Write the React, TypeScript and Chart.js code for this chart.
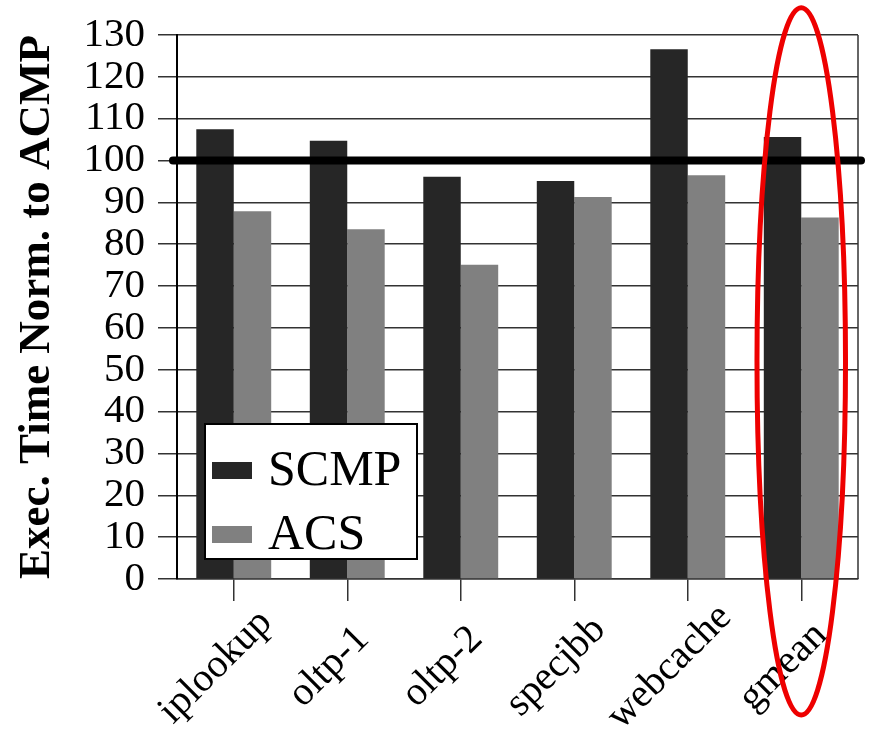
import { useEffect, useRef } from 'react';
import { Chart, registerables } from 'chart.js';

Chart.register(...registerables);

const categories = ['iplookup', 'oltp-1', 'oltp-2', 'specjbb', 'webcache', 'gmean'];
const seriesLabels = ['SCMP', 'ACS'];
const scmpValues = [107.5, 104.7, 96.1, 95.1, 126.6, 105.6];
const acsValues = [87.9, 83.6, 75.1, 91.3, 96.5, 86.4];
const yMin = 0;
const yMax = 130;
const yStep = 10;
const baselineValue = 100;
const highlightCategory = 'gmean';
const highlightRange = [-32.5, 136.5];
const yTitle = 'Exec. Time Norm. to ACMP';

const SERIF = '"Liberation Serif", "Times New Roman", "DejaVu Serif", serif';
const COLORS = ['#262626', '#808080'];

const overlayPlugin = {
  id: 'overlay',
  afterDatasetsDraw(chart: any) {
    const { ctx, chartArea: ca, scales } = chart;
    const x = scales.x;
    const y = scales.y;
    ctx.save();
    // right border of the plot box
    ctx.strokeStyle = '#333';
    ctx.lineWidth = 1.5;
    ctx.beginPath();
    ctx.moveTo(ca.right, ca.top);
    ctx.lineTo(ca.right, ca.bottom);
    ctx.stroke();

    // thick reference line
    const yb = y.getPixelForValue(baselineValue);
    ctx.strokeStyle = '#000';
    ctx.lineWidth = 8;
    ctx.lineCap = 'round';
    ctx.beginPath();
    ctx.moveTo(ca.left - 4, yb);
    ctx.lineTo(ca.right + 3, yb);
    ctx.stroke();

    // legend
    const lx = ca.left + 28;
    const lw = 212;
    const lh = 135;
    const ly = ca.bottom - 20 - lh;
    ctx.lineCap = 'butt';
    ctx.fillStyle = '#fff';
    ctx.fillRect(lx, ly, lw, lh);
    ctx.strokeStyle = '#000';
    ctx.lineWidth = 2;
    ctx.strokeRect(lx, ly, lw, lh);
    ctx.font = `50px ${SERIF}`;
    ctx.textBaseline = 'middle';
    ctx.textAlign = 'left';
    chart.data.datasets.forEach((ds: any, i: number) => {
      const cy = ly + 46 + i * 64;
      ctx.fillStyle = ds.backgroundColor;
      ctx.fillRect(lx + 7, cy - 8, 40, 17);
      ctx.fillStyle = '#000';
      ctx.fillText(ds.label, lx + 63, cy + 2);
    });

    // rotated category labels, centred below each tick
    ctx.font = `40px ${SERIF}`;
    ctx.fillStyle = '#000';
    ctx.textAlign = 'center';
    ctx.textBaseline = 'middle';
    (chart.data.labels as string[]).forEach((lab: string, i: number) => {
      const px = x.getPixelForValue(i) - 18;
      const py = ca.bottom + 88;
      ctx.save();
      ctx.translate(px, py);
      ctx.rotate(-Math.PI / 4);
      ctx.fillText(lab, 0, 0);
      ctx.restore();
    });

    // highlight ellipse
    const idx = categories.indexOf(highlightCategory);
    const cx = x.getPixelForValue(idx);
    const top = y.getPixelForValue(highlightRange[1]);
    const bottom = y.getPixelForValue(highlightRange[0]);
    const rx = (x.width / categories.length) * 0.39;
    ctx.strokeStyle = '#ee0000';
    ctx.lineWidth = 5;
    ctx.beginPath();
    ctx.ellipse(cx, (top + bottom) / 2, rx, (bottom - top) / 2, 0, 0, Math.PI * 2);
    ctx.stroke();
    ctx.restore();
  },
};

export default function App() {
  const ref = useRef<HTMLCanvasElement | null>(null);
  useEffect(() => {
    document.body.style.margin = '0';
    if (!ref.current) return;
    const chart = new Chart(ref.current, {
      type: 'bar',
      data: {
        labels: categories,
        datasets: [
          { label: seriesLabels[0], data: scmpValues, backgroundColor: COLORS[0], categoryPercentage: 0.66, barPercentage: 1 },
          { label: seriesLabels[1], data: acsValues, backgroundColor: COLORS[1], categoryPercentage: 0.66, barPercentage: 1 },
        ],
      },
      options: {
        responsive: false,
        animation: false,
        layout: { padding: { top: 35, right: 11, left: 0, bottom: 0 } },
        plugins: { legend: { display: false }, tooltip: { enabled: false } },
        scales: {
          x: {
            grid: { drawOnChartArea: false, offset: false, tickLength: 22, color: '#333', lineWidth: 1.5 },
            border: { color: '#333', width: 1.5 },
            ticks: { display: false, autoSkip: false },
            afterFit: (s: any) => { s.height = 157; },
          },
          y: {
            min: yMin,
            max: yMax,
            grid: { color: '#333', lineWidth: 1.5, tickLength: 19 },
            border: { color: '#000', width: 2 },
            ticks: { stepSize: yStep, autoSkip: false, padding: 13, color: '#000', font: { family: SERIF, size: 41, lineHeight: 1 } },
            title: {
              display: true,
              text: yTitle,
              color: '#000',
              padding: { top: 15, bottom: 0 },
              font: { family: SERIF, size: 45, weight: 'bold', lineHeight: 1 },
            },
            afterFit: (s: any) => { s.width = 177; },
          },
        },
      },
      plugins: [overlayPlugin],
    });
    return () => chart.destroy();
  }, []);
  return (
    <div style={{ position: 'absolute', left: 0, top: 0, width: 869, height: 736 }}>
      <canvas ref={ref} width={869} height={736} style={{ display: 'block' }} />
    </div>
  );
}
